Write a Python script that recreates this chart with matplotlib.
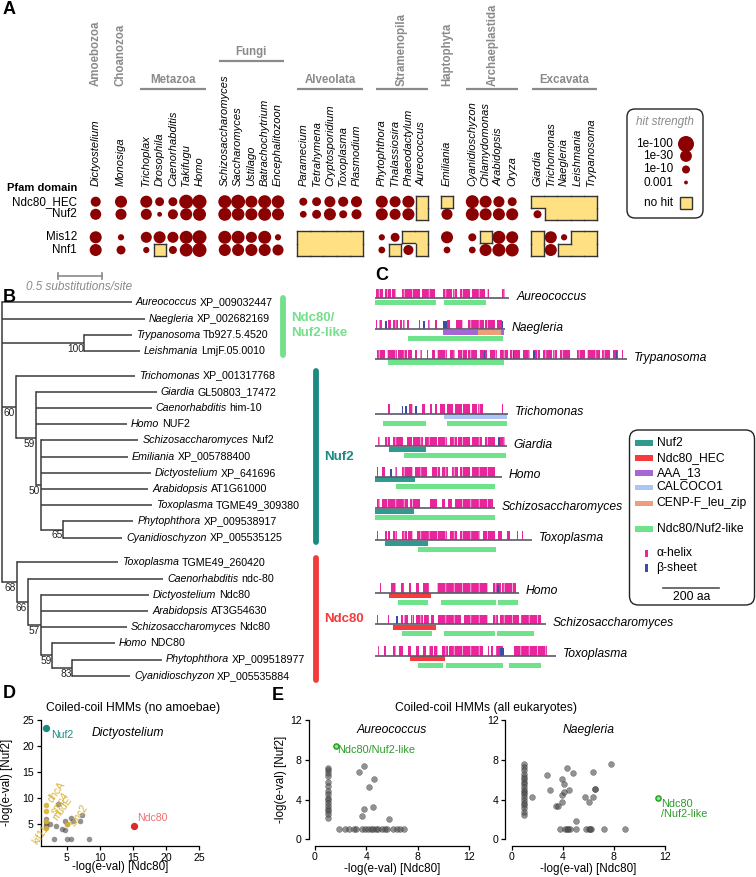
import matplotlib
matplotlib.use('Agg')
import matplotlib.pyplot as plt
from matplotlib.patches import Circle, Rectangle, FancyBboxPatch
import numpy as np

plt.rcParams['font.family'] = ['Liberation Sans', 'DejaVu Sans']
plt.rcParams['hatch.linewidth'] = 0.45

# ======================= DATA =======================
# ---- Panel A : Pfam hits (hit strength as -log10(E-value); 0 = no hit)
group_names = ['Amoebozoa', 'Choanozoa', 'Metazoa', 'Fungi', 'Alveolata',
               'Stramenopila', 'Haptophyta', 'Archaeplastida', 'Excavata']
species = ['Dictyostelium', 'Monosiga', 'Trichoplax', 'Drosophila', 'Caenorhabditis', 'Takifugu', 'Homo',
           'Schizosaccharomyces', 'Saccharomyces', 'Ustilago', 'Batrachochytrium', 'Encephalitozoon',
           'Paramecium', 'Tetrahymena', 'Cryptosporidium', 'Toxoplasma', 'Plasmodium',
           'Phytophthora', 'Thalassiosira', 'Phaeodactylum', 'Aureococcus',
           'Emiliania', 'Cyanidioschyzon', 'Chlamydomonas', 'Arabidopsis', 'Oryza',
           'Giardia', 'Trichomonas', 'Naegleria', 'Leishmania', 'Trypanosoma']
species_group = [0, 1, 2, 2, 2, 2, 2, 3, 3, 3, 3, 3, 4, 4, 4, 4, 4, 5, 5, 5, 5, 6, 7, 7, 7, 7, 8, 8, 8, 8, 8]
pfam_domains = ['Ndc80_HEC', 'Nuf2', 'Mis12', 'Nnf1']
hit_ndc80 = [18, 32, 32, 13, 13, 56, 56, 42, 56, 32, 42, 38, 10, 13, 24, 18, 24, 32, 24, 32, 0, 0, 42, 32, 24, 13, 0, 0, 0, 0, 0]
hit_nuf2 = [24, 24, 24, 4, 18, 32, 42, 42, 38, 32, 42, 32, 7, 13, 32, 10, 18, 32, 24, 32, 0, 24, 42, 32, 32, 32, 10, 0, 0, 0, 0]
hit_mis12 = [32, 6, 24, 32, 24, 42, 56, 42, 42, 24, 42, 6, 0, 0, 0, 0, 0, 6, 13, 0, 0, 32, 10, 0, 42, 32, 0, 32, 6, 0, 0]
hit_nnf1 = [32, 13, 6, 0, 10, 42, 56, 32, 32, 32, 32, 24, 0, 0, 0, 0, 0, 7, 0, 18, 0, 7, 7, 32, 42, 42, 0, 32, 0, 0, 0]
legend_hits = [100, 30, 10, 3]
legend_hit_labels = ['1e-100', '1e-30', '1e-10', '0.001']

# ---- Panel B : phylogeny (Newick, branch lengths in substitutions/site, bootstrap as node labels)
tree_newick = ("('Aureococcus XP_009032447':1.474,'Naegleria XP_002682169':1.625,"
               "('Trypanosoma Tb927.5.4520':0.539,'Leishmania LmjF.05.0010':0.633)100:0.935,"
               "('Trichomonas XP_001317768':1.355,('Giardia GL50803_17472':1.375,'Caenorhabditis him-10':1.318,"
               "'Homo NUF2':1.034,('Schizosaccharomyces Nuf2':1.111,'Emiliania XP_005788400':0.990,"
               "'Dictyostelium XP_641696':1.256,'Arabidopsis AT1G61000':1.226,'Toxoplasma TGME49_309380':1.270,"
               "('Phytophthora XP_009538917':0.802,'Cyanidioschyzon XP_005535125':0.677)65:0.253)50:0.055)59:0.227)60:0.156,"
               "('Toxoplasma TGME49_260420':1.155,('Caenorhabditis ndc-80':1.541,('Dictyostelium Ndc80':1.230,"
               "'Arabidopsis AT3G54630':1.223,'Schizosaccharomyces Ndc80':0.977,('Homo NDC80':0.714,"
               "('Phytophthora XP_009518977':1.015,'Cyanidioschyzon XP_005535884':0.655)83:0.230)59:0.130)57:0.148)66:0.125)68:0.167);")
clade_names = ['Ndc80/\nNuf2-like', 'Nuf2', 'Ndc80']
clade_colors = ['#74e08c', '#1b8a82', '#f23c3c']

# ---- Panel C : protein architectures (amino acids)
prot_names = ['Aureococcus', 'Naegleria', 'Trypanosoma', 'Trichomonas', 'Giardia', 'Homo',
              'Schizosaccharomyces', 'Toxoplasma', 'Homo', 'Schizosaccharomyces', 'Toxoplasma']
prot_len = [480, 464, 899, 476, 470, 452, 429, 560, 513, 611, 646]
prot_pfam = [[], [('AAA_13', 244, 367), ('CENP-F_leu_zip', 367, 450), ('AAA_13', 450, 459)], [],
             [('CALCOCO1', 246, 470)], [('Nuf2', 50, 182)], [('Nuf2', 0, 143)], [('Nuf2', 0, 138)],
             [('Nuf2', 36, 188)], [('Ndc80_HEC', 51, 200)], [('Ndc80_HEC', 63, 218)], [('Ndc80_HEC', 125, 250)]]
prot_like = [[(0, 220), (246, 399)], [(119, 458)], [(48, 464)], [(30, 185), (256, 474)], [(105, 470)],
             [(75, 432)], [(0, 429)], [(155, 435)], [(81, 190), (236, 435), (438, 512)],
             [(95, 206), (245, 432), (436, 571)], [(152, 245), (254, 458), (480, 596)]]
prot_helix = [
    [(4, 30), (36, 56), (61, 75), (95, 161), (167, 214), (244, 274), (280, 294), (303, 339), (345, 393), (401, 408), (452, 464)],
    [(4, 8), (15, 24), (48, 56), (65, 83), (89, 95), (101, 107), (113, 123), (158, 162), (190, 196), (214, 220),
     (256, 268), (291, 315), (333, 388), (393, 428), (434, 452)],
    [(6, 36), (42, 77), (83, 113), (119, 131), (143, 149), (161, 167), (184, 190), (202, 214), (220, 256), (268, 286),
     (298, 327), (333, 363), (375, 399), (411, 434), (446, 476), (482, 518), (530, 554), (565, 589), (601, 631),
     (637, 649), (661, 696), (720, 750), (756, 803), (809, 839), (851, 869), (881, 887)],
    [(48, 54), (123, 137), (167, 179), (196, 202), (214, 220), (232, 250), (256, 280), (286, 310), (315, 339),
     (345, 363), (369, 387), (452, 458)],
    [(12, 18), (36, 54), (65, 101), (113, 131), (137, 173), (179, 220), (226, 256), (268, 292), (298, 339),
     (345, 381), (393, 428), (440, 464)],
    [(6, 12), (24, 36), (71, 77), (95, 137), (143, 184), (202, 232), (238, 262), (274, 298), (304, 339), (345, 428)],
    [(6, 18), (24, 119), (125, 161), (196, 220), (238, 250), (262, 274), (286, 423)],
    [(6, 12), (36, 42), (48, 54), (65, 77), (95, 113), (119, 137), (149, 256), (268, 292), (304, 375), (387, 428),
     (440, 452), (470, 482), (506, 512), (524, 530)],
    [(18, 21), (57, 75), (93, 105), (123, 129), (146, 158), (170, 194), (221, 295), (295, 402), (420, 449), (455, 503)],
    [(7, 12), (45, 51), (93, 99), (105, 117), (128, 140), (146, 170), (176, 194), (200, 212), (224, 307), (319, 402),
     (420, 438), (447, 515), (521, 592)],
    [(10, 15), (33, 39), (63, 75), (87, 99), (117, 128), (146, 158), (170, 182), (194, 206), (212, 224), (241, 259),
     (265, 384), (402, 408), (414, 420), (432, 456), (497, 616)],
]
prot_strand = [[], [(36, 42), (173, 179), (244, 256), (452, 457)], [(388, 392), (492, 496), (566, 570), (860, 864)],
               [(95, 101), (107, 113), (143, 149)], [(440, 446)], [(54, 60)], [], [], [(437, 443)], [(75, 81)],
               [(446, 452), (455, 460)]]
domain_names = ['Nuf2', 'Ndc80_HEC', 'AAA_13', 'CALCOCO1', 'CENP-F_leu_zip', 'Ndc80/Nuf2-like']
domain_colors = ['#2e9a90', '#f53b3b', '#a865d6', '#abc5f6', '#ec9f7c', '#6fe38b']

# ---- Panel D : Dictyostelium scores (-log e-value)
d_nuf2_hit = (1.9, 23.5)
d_ndc80_hit = (15.1, 4.6)
d_gold_x = [1.9, 1.9, 1.9, 1.9, 5.0]
d_gold_y = [8.6, 7.5, 5.6, 4.2, 5.0]
d_gold_labels = ['dhcA', 'smc4', 'mudE', 'kif11', 'smc2']
d_other_x = [1.9, 1.9, 1.9, 1.9, 2.5, 3.7, 3.4, 4.2, 4.7, 5.1, 5.6, 5.9, 7.0, 7.3, 3.0, 5.0, 5.6, 8.3, 4.8]
d_other_y = [6.0, 5.3, 4.8, 4.4, 4.9, 8.9, 4.6, 4.0, 5.5, 5.0, 6.2, 5.5, 5.5, 6.8, 2.0, 2.0, 2.0, 2.0, 3.8]

# ---- Panel E : all-eukaryote coiled-coil HMM scores
ea_x = [1.0] * 16 + [3.45, 3.82, 4.6, 4.2, 3.85, 4.55, 3.7, 5.8] + \
       [1.9, 2.34, 2.68, 3.0, 3.2, 3.64, 3.9, 4.16, 4.34, 4.55, 4.75, 4.94, 5.2, 5.46, 5.64, 6.1, 6.37, 6.63, 6.94]
ea_y = [7.2, 6.96, 6.7, 6.36, 5.8, 5.36, 4.85, 4.6, 4.2, 3.95, 3.68, 3.35, 3.0, 2.8, 2.55, 2.1] + \
       [6.8, 7.4, 6.06, 5.3, 3.08, 3.28, 2.35, 2.0] + [1.0] * 19
ea_hit = (1.64, 9.4)
en_x = [1.0] * 19 + [1.6, 2.8, 3.0, 3.43, 3.63, 3.9, 3.9, 4.1, 4.1, 3.97, 4.34, 4.5, 4.8, 5.7, 6.05, 6.36, 6.36,
                     6.5, 6.5, 7.74, 5.0] + [3.8, 4.2, 4.35, 4.54, 5.06, 5.85, 6.05, 6.23, 7.2, 8.9, 4.4, 6.1]
en_y = [7.6, 7.3, 6.97, 6.6, 6.3, 6.03, 5.8, 5.56, 5.3, 5.0, 4.8, 4.55, 4.28, 3.95, 3.68, 3.45, 3.1, 2.77, 2.44] + \
       [4.28, 6.46, 4.95, 3.38, 3.38, 6.03, 4.45, 5.6, 4.8, 3.78, 7.13, 4.95, 6.7, 4.28, 3.78, 4.28, 6.8,
        5.06, 5.06, 7.6, 1.84] + [1.0] * 12
en_hit = (11.46, 4.2)

# ======================= LAYOUT / DRAWING =======================
W, H = 756, 877
fig = plt.figure(figsize=(W / 100, H / 100), dpi=100)
ax = fig.add_axes([0, 0, 1, 1])
ax.set_xlim(0, W)
ax.set_ylim(H, 0)
ax.axis('off')
renderer = fig.canvas.get_renderer()

DOT = '#8b0000'
NOHIT = '#ffe083'
GRAY = '#8a8a8a'


def panel_label(x, y, s):
    ax.text(x, y, s, fontsize=13, fontweight='bold', ha='left', va='center')


# ---------------- Panel A ----------------
panel_label(3, 10, 'A')
step, gap, x0 = 13.3, 12.0, 95.7
col_x = [x0 + i * step + g * gap for i, g in enumerate(species_group)]
row_y = [201.7, 214.3, 237.3, 250.0]
row_block = [0, 0, 1, 1]
hits = [hit_ndc80, hit_nuf2, hit_mis12, hit_nnf1]


def diam(v):
    return 8.0 * np.log10(v)


for name, x in zip(species, col_x):
    ax.text(x, 186, name, rotation=90, rotation_mode='anchor', ha='left', va='center',
            fontsize=8, style='italic')

ax.text(77, 188, 'Pfam domain', ha='right', va='center', fontsize=8, fontweight='bold')
for d, y in zip(pfam_domains, row_y):
    ax.text(77, y, d, ha='right', va='center', fontsize=8.4)

nR, nC = 4, len(species)


def nohit(r, c):
    return 0 <= r < nR and 0 <= c < nC and hits[r][c] == 0


hx_merge, hx_edge, hy_merge, hy_edge = step / 2, 6.1, 6.3, 6.1
for r in range(nR):
    for c in range(nC):
        v = hits[r][c]
        x, y = col_x[c], row_y[r]
        if v > 0:
            ax.add_patch(Circle((x, y), diam(v) / 2, color=DOT, lw=0))
            continue
        ln = c > 0 and species_group[c - 1] == species_group[c] and nohit(r, c - 1)
        rn = c < nC - 1 and species_group[c + 1] == species_group[c] and nohit(r, c + 1)
        un = r > 0 and row_block[r - 1] == row_block[r] and nohit(r - 1, c)
        dn = r < nR - 1 and row_block[r + 1] == row_block[r] and nohit(r + 1, c)
        xl = x - (hx_merge if ln else hx_edge)
        xr = x + (hx_merge if rn else hx_edge)
        yt = y - (hy_merge if un else hy_edge)
        yb = y + (hy_merge if dn else hy_edge)
        ax.add_patch(Rectangle((xl, yt), xr - xl, yb - yt, facecolor=NOHIT, edgecolor='none', lw=0, zorder=2))
        kw = dict(color='#333333', lw=1.0, zorder=3, solid_capstyle='projecting')
        if not ln:
            ax.plot([xl, xl], [yt, yb], **kw)
        if not rn:
            ax.plot([xr, xr], [yt, yb], **kw)
        if not un:
            ax.plot([xl, xr], [yt, yt], **kw)
        if not dn:
            ax.plot([xl, xr], [yb, yb], **kw)

# group labels
vertical_groups = {0, 1, 5, 6, 7}
line_y = {2: 88.7, 3: 60.5, 4: 88.7, 5: 89, 7: 89, 8: 89}
for g, gname in enumerate(group_names):
    xs = [col_x[i] for i in range(nC) if species_group[i] == g]
    xc = (min(xs) + max(xs)) / 2
    n = len(xs)
    if n > 1:
        ly = line_y[g]
        ax.plot([min(xs) - 6, max(xs) + 6], [ly, ly], color=GRAY, lw=1.6, solid_capstyle='butt')
    if g in vertical_groups:
        ax.text(xc, 86, gname, rotation=90, rotation_mode='anchor', ha='left', va='center',
                fontsize=8.3, color=GRAY, fontweight='bold')
    else:
        ax.text(xc, line_y[g] - 3, gname, ha='center', va='bottom', fontsize=8.3, color=GRAY, fontweight='bold')

# hit strength legend
ax.add_patch(FancyBboxPatch((627, 109), 76, 109, boxstyle='round,pad=0,rounding_size=8',
                            facecolor='white', edgecolor='#222222', lw=1.0))
ax.text(665, 122, 'hit strength', ha='center', va='center', fontsize=8.5, style='italic', color=GRAY)
for v, lab, y in zip(legend_hits, legend_hit_labels, [144, 156, 169.5, 182.5]):
    ax.text(673, y, lab, ha='right', va='center', fontsize=8.5)
    ax.add_patch(Circle((686, y), diam(v) / 2, color=DOT, lw=0))
ax.text(673, 203, 'no hit', ha='right', va='center', fontsize=8.5)
ax.add_patch(Rectangle((680, 197), 12, 12, facecolor=NOHIT, edgecolor='#333333', lw=1.0))

# ---------------- Panel B ----------------
panel_label(3, 297, 'B')


def parse_newick(s):
    pos = 0

    def node():
        nonlocal pos
        nd = {'children': [], 'name': '', 'support': '', 'length': 0.0}
        if s[pos] == '(':
            pos += 1
            while True:
                nd['children'].append(node())
                if s[pos] == ',':
                    pos += 1
                    continue
                pos += 1
                break
            st = pos
            while s[pos] not in ':,);':
                pos += 1
            nd['support'] = s[st:pos]
        elif s[pos] == "'":
            end = s.index("'", pos + 1)
            nd['name'] = s[pos + 1:end]
            pos = end + 1
        if s[pos] == ':':
            pos += 1
            st = pos
            while s[pos] not in ',);':
                pos += 1
            nd['length'] = float(s[st:pos])
        return nd

    return node()


tree = parse_newick(tree_newick)
PX_PER_SUB = 88.0
ROOT_X = 2.0
LEAF_Y0, LEAF_DY, BLOCK_GAP = 302.3, 16.2, 8.5
root_child_block = [0, 0, 0, 1, 2]
leaf_counter = [0]
block_leaves = {0: [], 1: [], 2: []}
TREE_COL = '#3a3a3a'


def layout(nd, depth, block):
    nd['x'] = ROOT_X + depth * PX_PER_SUB
    if not nd['children']:
        i = leaf_counter[0]
        leaf_counter[0] += 1
        nd['y'] = LEAF_Y0 + i * LEAF_DY + block * BLOCK_GAP
        block_leaves[block].append(nd['y'])
    else:
        for ch in nd['children']:
            layout(ch, depth + ch['length'], block)
        nd['y'] = (nd['children'][0]['y'] + nd['children'][-1]['y']) / 2


for k, ch in enumerate(tree['children']):
    layout(ch, ch['length'], root_child_block[k])
tree['x'] = ROOT_X
tree['y'] = (tree['children'][0]['y'] + tree['children'][-1]['y']) / 2


def draw(nd):
    if nd['children']:
        ys = [c['y'] for c in nd['children']]
        ax.plot([nd['x'], nd['x']], [min(ys), max(ys)], color=TREE_COL, lw=1.1, solid_capstyle='projecting')
        for c in nd['children']:
            ax.plot([nd['x'], c['x']], [c['y'], c['y']], color=TREE_COL, lw=1.1, solid_capstyle='butt')
            draw(c)
        if nd['support']:
            ax.text(nd['x'] - 0.5, nd['y'] + 1.0, nd['support'], ha='right', va='top', fontsize=7.3, color='#222222')
    else:
        genus, ident = nd['name'].split(' ', 1)
        t = ax.text(nd['x'] + 4, nd['y'], genus, style='italic', fontsize=7.7, ha='left', va='center')
        bb = t.get_window_extent(renderer)
        xe = ax.transData.inverted().transform((bb.x1, bb.y0))[0]
        ax.text(xe + 2.8, nd['y'], ident, fontsize=7.7, ha='left', va='center')


draw(tree)

# scale bar
ax.plot([58.3, 58.3 + 0.5 * PX_PER_SUB], [276, 276], color=GRAY, lw=1.2)
ax.plot([58.3, 58.3], [273, 279], color=GRAY, lw=1.2)
ax.plot([58.3 + 0.5 * PX_PER_SUB] * 2, [273, 279], color=GRAY, lw=1.2)
ax.text(26.5, 287, '0.5 substitutions/site', style='italic', color=GRAY, fontsize=8.5, ha='left', va='center')

# clade bars
bar_x = [283.3, 315.7, 315.7]
for k in range(3):
    ys = block_leaves[k]
    ax.plot([bar_x[k], bar_x[k]], [min(ys) - 4.5, max(ys) + 4.5], color=clade_colors[k], lw=4.2,
            solid_capstyle='round')
    yc = (min(ys) + max(ys)) / 2
    ax.text(bar_x[k] + 8, yc if k else yc - 1, clade_names[k], color=clade_colors[k], fontsize=9.5,
            fontweight='bold', ha='left', va='center', linespacing=1.25)

# ---------------- Panel C ----------------
panel_label(375, 276, 'C')
C_X0 = 375.0
PX_PER_AA = 0.28
prot_y = [298.3, 329.0, 359.0, 413.7, 446.0, 476.7, 508.3, 540.0, 592.7, 624.3, 655.7]
HELIX = '#e8259a'
STRAND = '#3b4ea6'
dcol = dict(zip(domain_names, domain_colors))
for i, name in enumerate(prot_names):
    y = prot_y[i]
    L = prot_len[i]
    for (a, b) in prot_helix[i]:
        ax.add_patch(Rectangle((C_X0 + a * PX_PER_AA, y - 9.5), (b - a) * PX_PER_AA, 9.5,
                               facecolor=HELIX, edgecolor='white', hatch='||', lw=0, zorder=2))
    for (a, b) in prot_strand[i]:
        ax.add_patch(Rectangle((C_X0 + a * PX_PER_AA, y - 8), (b - a) * PX_PER_AA, 8,
                               facecolor=STRAND, edgecolor='none', lw=0, zorder=2))
    ax.plot([C_X0, C_X0 + L * PX_PER_AA], [y, y], color='#5a5a6a', lw=1.2, zorder=3, solid_capstyle='butt')
    ax.text(C_X0 + L * PX_PER_AA + 7, y - 1.5, name, style='italic', fontsize=8.7, ha='left', va='center')
    for (dn, a, b) in prot_pfam[i]:
        ax.add_patch(Rectangle((C_X0 + a * PX_PER_AA, y + 0.6), (b - a) * PX_PER_AA, 5,
                               facecolor=dcol[dn], edgecolor='none', lw=0, zorder=1))
    off = 7.0 if prot_pfam[i] else 1.2
    for (a, b) in prot_like[i]:
        ax.add_patch(Rectangle((C_X0 + a * PX_PER_AA, y + off), (b - a) * PX_PER_AA - 0.6, 5,
                               facecolor=dcol['Ndc80/Nuf2-like'], edgecolor='none', lw=0, zorder=1))

# domain legend
ax.add_patch(FancyBboxPatch((629.5, 430), 125, 175, boxstyle='round,pad=0,rounding_size=9',
                            facecolor='white', edgecolor='#222222', lw=1.0))
leg_y = [442.7, 457.7, 472.7, 487.3, 503.3, 529.0]
for dn, col, y in zip(domain_names, domain_colors, leg_y):
    ax.add_patch(Rectangle((635, y - 2.8), 17.5, 5.6, facecolor=col, edgecolor='none'))
    ax.text(656.5, y, dn, fontsize=8.7, ha='left', va='center')
for lab, col, y in [('α-helix', HELIX, 553.3), ('β-sheet', STRAND, 567.7)]:
    ax.add_patch(Rectangle((645, y - 3.8), 3.4, 7.6, facecolor=col, edgecolor='none'))
    ax.text(656.5, y, lab, fontsize=8.7, ha='left', va='center')
ax.plot([663.3, 663.3 + 200 * PX_PER_AA], [587.7, 587.7], color='#555555', lw=1.2)
ax.text(663.3 + 100 * PX_PER_AA, 597, '200 aa', fontsize=8.7, ha='center', va='center')

# ---------------- Panels D and E ----------------
panel_label(3, 693, 'D')
panel_label(272, 695, 'E')
ax.text(133, 708.3, 'Coiled-coil HMMs (no amoebae)', fontsize=8.7, ha='center', va='center')
ax.text(486, 708.3, 'Coiled-coil HMMs (all eukaryotes)', fontsize=8.7, ha='center', va='center')


def fig_axes(l, r, t, b):
    return fig.add_axes([l / W, 1 - b / H, (r - l) / W, (b - t) / H])


def style_axes(a):
    a.patch.set_alpha(0)
    for s in ['top', 'right']:
        a.spines[s].set_visible(False)
    for s in ['left', 'bottom']:
        a.spines[s].set_linewidth(0.9)
    a.tick_params(labelsize=7.6, length=3, width=0.9, pad=2)


GREY_PT = '#4a4a4a'
GOLD = '#d8b134'

axD = fig_axes(40.7, 199, 720, 845.7)
style_axes(axD)
axD.set_xlim(1.05, 25)
axD.set_ylim(0.8, 25)
axD.set_xticks([5, 10, 15, 20, 25])
axD.set_yticks([5, 10, 15, 20, 25])
axD.scatter(d_other_x, d_other_y, s=16, color=GREY_PT, alpha=0.6, lw=0, zorder=2)
axD.scatter(d_gold_x, d_gold_y, s=16, color=GOLD, alpha=0.9, lw=0, zorder=3)
axD.scatter([d_nuf2_hit[0]], [d_nuf2_hit[1]], s=18, color='#1b8a82', zorder=3)
axD.scatter([d_ndc80_hit[0]], [d_ndc80_hit[1]], s=18, color='#d62d2d', zorder=3)
axD.text(d_nuf2_hit[0] + 0.8, d_nuf2_hit[1] - 0.4, 'Nuf2', color='#1b8a82', fontsize=7.6, ha='left', va='top')
axD.text(d_ndc80_hit[0] + 0.6, d_ndc80_hit[1] + 0.5, 'Ndc80', color='#f07070', fontsize=7.6, ha='left', va='bottom')
# label placement (offsets in data units, alignment) for the highlighted hits
gold_lab_off = [(0.6, 0.7, 'left'), (1.0, -0.4, 'left'), (1.3, 0.2, 'left'), (0.0, 0.3, 'right'), (0.75, -0.2, 'left')]
for gx, gy, gl, (ox, oy, ha) in zip(d_gold_x, d_gold_y, d_gold_labels, gold_lab_off):
    axD.text(gx + ox, gy + oy, gl, color=GOLD, fontsize=7.2, rotation=55, rotation_mode='anchor',
             ha=ha, va='center', clip_on=False)
axD.text(0.55, 0.9, 'Dictyostelium', transform=axD.transAxes, style='italic', fontsize=8.7, ha='center', va='center')
axD.set_xlabel('-log(e-val) [Ndc80]', fontsize=8.4)
axD.set_ylabel('-log(e-val) [Nuf2]', fontsize=8.4)
axD.xaxis.set_label_coords(0.5, -0.125)
axD.yaxis.set_label_coords(-0.172, 0.5)


def panel_e(l, r, xs, ys, hit, title, hit_label, lab_off, ylabel):
    a = fig_axes(l, r, 720, 839.3)
    style_axes(a)
    a.spines['left'].set_position(('outward', 4.5))
    a.spines['bottom'].set_position(('outward', 4.5))
    a.set_xlim(0, 12)
    a.set_ylim(0, 12)
    a.set_xticks([0, 4, 8, 12])
    a.set_yticks([0, 4, 8, 12])
    a.scatter(xs, ys, s=18, color=GREY_PT, alpha=0.6, lw=0.3, edgecolor='#222222', zorder=2, clip_on=False)
    a.scatter([hit[0]], [hit[1]], s=14, facecolor='#8fe08f', edgecolor='#1f9e1f', lw=1.0, zorder=3, clip_on=False)
    a.text(hit[0] + lab_off[0], hit[1] + lab_off[1], hit_label, color='#2a9a2a', fontsize=7.8,
           ha='left', va='top', linespacing=1.0)
    a.text(0.5, 0.92, title, transform=a.transAxes, style='italic', fontsize=8.7, ha='center', va='center')
    a.set_xlabel('-log(e-val) [Ndc80]', fontsize=8.4)
    a.xaxis.set_label_coords(0.5, -0.195)
    if ylabel:
        a.set_ylabel('-log(e-val) [Nuf2]', fontsize=8.4)
        a.yaxis.set_label_coords(-0.18, 0.5)
    return a


panel_e(315, 469, ea_x, ea_y, ea_hit, 'Aureococcus', 'Ndc80/Nuf2-like', (0.1, 0.1), True)
panel_e(511.7, 665, en_x, en_y, en_hit, 'Naegleria', 'Ndc80\n/Nuf2-like', (0.2, -0.1), False)

fig.savefig('out.png', dpi=100)
